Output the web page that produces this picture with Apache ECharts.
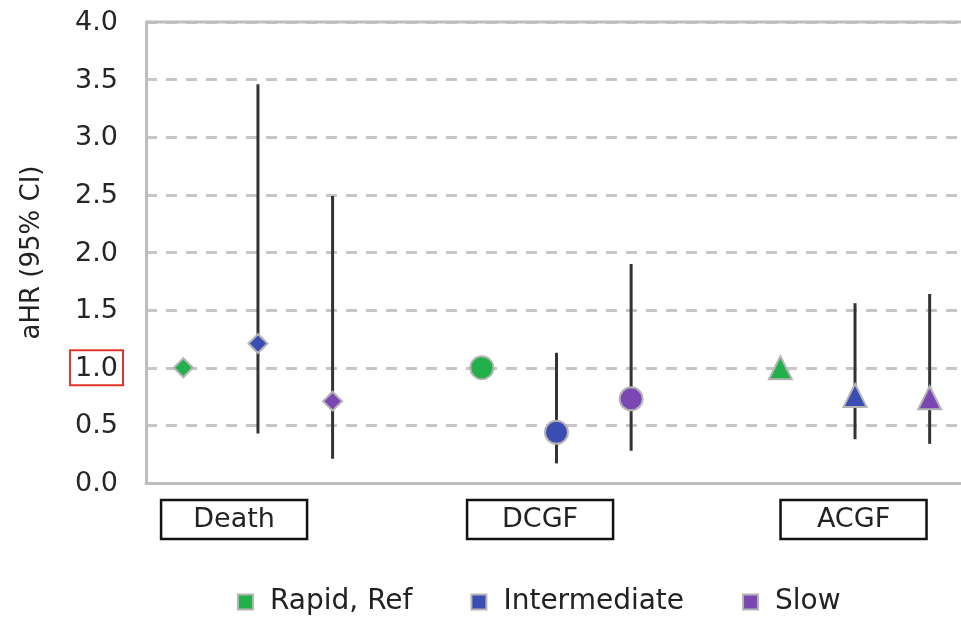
<!DOCTYPE html>
<html>
<head>
<meta charset="utf-8">
<script src="https://cdn.jsdelivr.net/npm/echarts@6/dist/echarts.min.js"></script>
<style>
html,body{margin:0;padding:0;background:#fff;}
#chart{width:961px;height:618px;}
</style>
</head>
<body>
<div id="chart"></div>
<script>
// ---- data ----
const categories = ['Death', 'DCGF', 'ACGF'];
const seriesNames = ['Rapid, Ref', 'Intermediate', 'Slow'];
const rapidHR = [1.0, 1.0, 1.0];
const intermediateHR = [1.21, 0.44, 0.76];
const intermediateLow = [0.43, 0.17, 0.38];
const intermediateHigh = [3.46, 1.13, 1.56];
const slowHR = [0.71, 0.73, 0.74];
const slowLow = [0.21, 0.28, 0.34];
const slowHigh = [2.49, 1.90, 1.64];
const yTicks = [0, 0.5, 1.0, 1.5, 2.0, 2.5, 3.0, 3.5, 4.0];

// ---- styling ----
const FONT = 'DejaVu Sans';
const colors = ['#22b04b', '#3a4db3', '#7b48b3'];
const symbols = ['diamond', 'circle', 'triangle'];
const symbolSizes = [19, 23, 23];
const groupStride = 4;
const labelOffsets = [0.68, 0.78, 0.98];

const hrSets = [rapidHR, intermediateHR, slowHR];
const lowSets = [null, intermediateLow, slowLow];
const highSets = [null, intermediateHigh, slowHigh];

function xPos(g, s) { return g * groupStride + s; }

const series = [];
const barData = [];
for (let s = 1; s < 3; s++) {
  for (let g = 0; g < categories.length; g++) {
    barData.push([xPos(g, s), lowSets[s][g], highSets[s][g]]);
  }
}
series.push({
  type: 'custom',
  name: 'ci',
  z: 1,
  silent: true,
  data: barData,
  encode: { x: 0, y: [1, 2] },
  renderItem: function (params, api) {
    const x = api.value(0);
    const p1 = api.coord([x, api.value(1)]);
    const p2 = api.coord([x, api.value(2)]);
    return {
      type: 'line',
      shape: { x1: p1[0], y1: p1[1], x2: p2[0], y2: p2[1] },
      style: { stroke: '#333333', lineWidth: 3 }
    };
  }
});
for (let s = 0; s < 3; s++) {
  series.push({
    type: 'scatter',
    name: seriesNames[s],
    z: 3,
    itemStyle: { color: colors[s], borderColor: '#b4b4b4', borderWidth: 2, opacity: 1 },
    data: categories.map((c, g) => ({
      value: [xPos(g, s), hrSets[s][g]],
      symbol: symbols[g],
      symbolSize: symbolSizes[g]
    }))
  });
}

const chart = echarts.init(document.getElementById('chart'));
chart.setOption({
  animation: false,
  backgroundColor: '#ffffff',
  textStyle: { fontFamily: FONT },
  grid: { left: 146, top: 22, bottom: 135, right: 0, show: false },
  legend: {
    data: seriesNames,
    top: 583,
    left: 232,
    icon: 'rect',
    itemWidth: 15,
    itemHeight: 15,
    itemGap: 58,
    textStyle: { fontSize: 28, color: '#222', fontFamily: FONT, padding: [0, 0, 0, 12] }
  },
  xAxis: {
    type: 'value',
    min: -0.5,
    max: 10.42,
    splitLine: { show: false },
    axisTick: { show: false },
    axisLine: { show: true, onZero: false, lineStyle: { color: '#bdbdbd', width: 3 } },
    axisLabel: {
      customValues: categories.map((c, g) => g * groupStride + labelOffsets[g]),
      formatter: function (v) {
        let best = 0, bd = Infinity;
        categories.forEach((c, g) => {
          const d = Math.abs(v - (g * groupStride + labelOffsets[g]));
          if (d < bd) { bd = d; best = g; }
        });
        return categories[best];
      },
      margin: 17,
      fontSize: 27,
      fontFamily: FONT,
      color: '#222',
      width: 146,
      height: 39,
      lineHeight: 39,
      align: 'center',
      borderColor: '#111',
      borderWidth: 2.5
    }
  },
  yAxis: {
    type: 'value',
    min: 0,
    max: 4,
    interval: 0.5,
    name: 'aHR (95% CI)',
    nameLocation: 'middle',
    nameGap: 101,
    nameTextStyle: { fontSize: 26, color: '#222', fontFamily: FONT },
    axisLine: { show: true, onZero: false, lineStyle: { color: '#bdbdbd', width: 3 } },
    axisTick: { show: false },
    splitLine: {
      show: true,
      showMinLine: false,
      showMaxLine: true,
      lineStyle: { color: '#cbc4c4', width: 3, type: [11, 9] }
    },
    axisLabel: {
      fontSize: 27,
      fontFamily: FONT,
      color: '#262626',
      margin: 23,
      formatter: function (v) {
        const t = yTicks.find(k => Math.abs(k - v) < 1e-9);
        const s = (t !== undefined ? t : v).toFixed(1);
        return Math.abs(v - 1) < 1e-9 ? '{hl|' + s + '}' : '{n|' + s + '}';
      },
      rich: {
        n: {
          fontSize: 27,
          fontFamily: FONT,
          color: '#262626',
          padding: [5, 5, 3, 5]
        },
        hl: {
          fontSize: 27,
          fontFamily: FONT,
          color: '#262626',
          borderColor: '#e0342a',
          borderWidth: 2,
          padding: [5, 5, 3, 5]
        }
      }
    }
  },
  series: series
});
const yTop = chart.convertToPixel({ yAxisIndex: 0 }, 4);
const xLeft = chart.convertToPixel({ xAxisIndex: 0 }, -0.5);
chart.setOption({
  graphic: [{
    type: 'line',
    shape: { x1: xLeft, y1: yTop, x2: 961, y2: yTop },
    style: { stroke: '#bdbdbd', lineWidth: 3 },
    z: 5
  }]
});
</script>
</body>
</html>
